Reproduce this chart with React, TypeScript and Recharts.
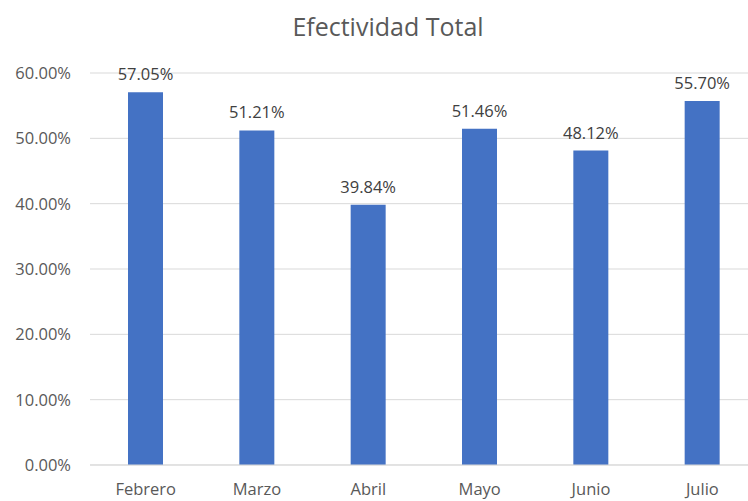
import { BarChart, Bar, XAxis, YAxis, CartesianGrid, LabelList } from "recharts";

const months = ["Febrero", "Marzo", "Abril", "Mayo", "Junio", "Julio"];
const efectividad = [57.05, 51.21, 39.84, 51.46, 48.12, 55.7];
const yTicks = [0, 10, 20, 30, 40, 50, 60];

const data = months.map((mes, i) => ({ mes, valor: efectividad[i] }));

const font = "'Open Sans', 'Noto Sans', sans-serif";
const gray = "#595959";

export default function App() {
  return (
    <div
      style={{
        position: "absolute",
        left: 0,
        top: 0,
        width: 748,
        height: 501,
        overflow: "hidden",
        background: "#fff",
        fontFamily: font,
      }}
    >
      <div
        style={{
          position: "absolute",
          left: 0,
          top: 9,
          width: 776,
          textAlign: "center",
          fontSize: 25,
          lineHeight: "34px",
          color: gray,
        }}
      >
        Efectividad Total
      </div>
      <BarChart
        width={770}
        height={501}
        data={data}
        margin={{ top: 73, right: 12, left: 0, bottom: 0 }}
        barSize={35}
      >
        <CartesianGrid vertical={false} stroke="#d9d9d9" />
        <XAxis
          dataKey="mes"
          height={36}
          axisLine={{ stroke: "#d9d9d9" }}
          tickLine={false}
          tickMargin={12}
          tick={{ fill: gray, fontSize: 16.5, fontFamily: font }}
          interval={0}
        />
        <YAxis
          width={90}
          domain={[0, 60]}
          ticks={yTicks}
          axisLine={false}
          tickLine={false}
          tickMargin={13}
          tickFormatter={(v: number) => v.toFixed(2) + "%"}
          tick={{ fill: gray, fontSize: 16.5, fontFamily: font }}
        />
        <Bar dataKey="valor" fill="#4472c4" isAnimationActive={false}>
          <LabelList
            dataKey="valor"
            position="top"
            offset={12}
            formatter={(v: number) => v.toFixed(2) + "%"}
            style={{ fill: "#404040", fontSize: 16.5, fontFamily: font }}
          />
        </Bar>
      </BarChart>
    </div>
  );
}
